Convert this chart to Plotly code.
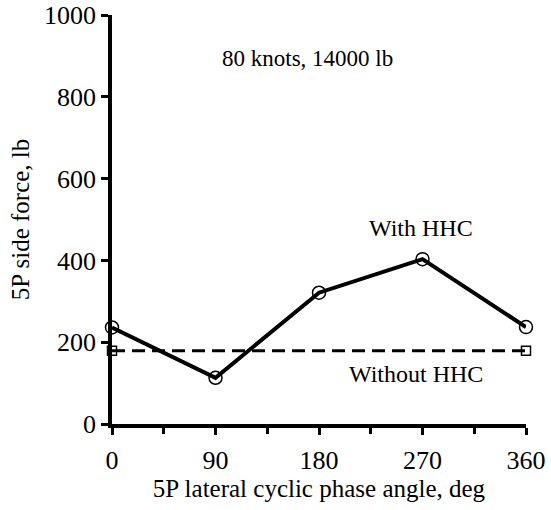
import plotly.graph_objects as go

# Phase angle sweep (deg) and measured 5P side force (lb)
phase_deg = [0, 90, 180, 270, 360]
force_with_hhc = [236, 113, 321, 403, 237]
baseline_phase = [0, 360]
force_without_hhc = [179, 179]

x_ticks = [0, 90, 180, 270, 360]
y_ticks = [0, 200, 400, 600, 800, 1000]

FONT = "Liberation Serif, Times New Roman, serif"

fig = go.Figure()

fig.add_trace(go.Scatter(
    x=baseline_phase, y=force_without_hhc, mode="lines+markers",
    line=dict(color="black", width=3, dash="13px,7px"),
    marker=dict(symbol="square-open", size=9, color="black", line=dict(width=1.5)),
    cliponaxis=False, showlegend=False,
))
fig.add_trace(go.Scatter(
    x=phase_deg, y=force_with_hhc, mode="lines+markers",
    line=dict(color="black", width=4),
    marker=dict(symbol="circle-open", size=13, color="black", line=dict(width=1.5)),
    cliponaxis=False, showlegend=False,
))

fig.add_annotation(x=170, y=893, text="80 knots, 14000 lb", showarrow=False,
                   font=dict(family=FONT, size=23, color="black"))
fig.add_annotation(x=269, y=480, text="With HHC", showarrow=False,
                   font=dict(family=FONT, size=24, color="black"))
fig.add_annotation(x=264, y=122, text="Without HHC", showarrow=False,
                   font=dict(family=FONT, size=24, color="black"))

fig.update_xaxes(
    range=[0, 360], tickvals=x_ticks, ticktext=[str(v) for v in x_ticks],
    showline=True, linecolor="black", linewidth=3.5, showgrid=False, zeroline=False,
    ticks="outside", ticklen=7, tickwidth=3, tickcolor="black",
    minor=dict(dtick=45, tick0=0, ticks="outside", ticklen=6, tickwidth=3, tickcolor="black"),
    tickfont=dict(family=FONT, size=26, color="black"),
    ticklabelstandoff=3,
    title=dict(text="5P lateral cyclic phase angle, deg",
               font=dict(family=FONT, size=25, color="black"), standoff=6),
    automargin=False,
)
fig.update_yaxes(
    range=[0, 1000], tickvals=y_ticks, ticktext=[str(v) for v in y_ticks],
    showline=True, linecolor="black", linewidth=3.5, showgrid=False, zeroline=False,
    ticks="outside", ticklen=7, tickwidth=3, tickcolor="black",
    tickfont=dict(family=FONT, size=26, color="black"),
    title=dict(text="5P side force, lb",
               font=dict(family=FONT, size=25, color="black"), standoff=8),
    automargin=False,
)

fig.update_layout(
    width=551, height=510,
    margin=dict(l=112, r=25, t=15, b=86),
    paper_bgcolor="white", plot_bgcolor="white",
)

fig.write_html("out.html")
